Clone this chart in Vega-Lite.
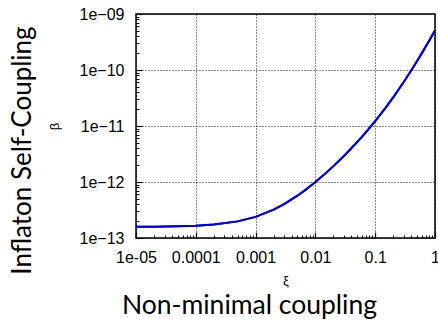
{
  "$schema": "https://vega.github.io/schema/vega-lite/v6.json",
  "width": 299,
  "height": 224,
  "autosize": {"type": "none"},
  "padding": {"left": 136, "top": 14, "right": 3, "bottom": 82},
  "config": {
    "view": {"stroke": "#000", "strokeWidth": 1.5},
    "font": "Liberation Sans",
    "axis": {"labelColor": "#000", "titleColor": "#000", "titleFontWeight": "normal", "tickColor": "#000", "domain": false}
  },
  "data": {"values": [
    {"xi": 0.00001, "beta": 1.588e-13},
    {"xi": 0.00002, "beta": 1.596e-13},
    {"xi": 0.00005, "beta": 1.620e-13},
    {"xi": 0.0001, "beta": 1.660e-13},
    {"xi": 0.0002, "beta": 1.740e-13},
    {"xi": 0.0005, "beta": 1.981e-13},
    {"xi": 0.001, "beta": 2.386e-13},
    {"xi": 0.002, "beta": 3.20e-13},
    {"xi": 0.003, "beta": 4.02e-13},
    {"xi": 0.005, "beta": 5.69e-13},
    {"xi": 0.007, "beta": 7.39e-13},
    {"xi": 0.01, "beta": 1.0e-12},
    {"xi": 0.015, "beta": 1.45e-12},
    {"xi": 0.02, "beta": 1.92e-12},
    {"xi": 0.03, "beta": 2.92e-12},
    {"xi": 0.05, "beta": 5.17e-12},
    {"xi": 0.07, "beta": 7.73e-12},
    {"xi": 0.1, "beta": 1.219e-11},
    {"xi": 0.15, "beta": 2.124e-11},
    {"xi": 0.2, "beta": 3.24e-11},
    {"xi": 0.3, "beta": 6.09e-11},
    {"xi": 0.4, "beta": 9.78e-11},
    {"xi": 0.5, "beta": 1.435e-10},
    {"xi": 0.6, "beta": 1.98e-10},
    {"xi": 0.7, "beta": 2.62e-10},
    {"xi": 0.8, "beta": 3.34e-10},
    {"xi": 0.9, "beta": 4.17e-10},
    {"xi": 1.0, "beta": 5.08e-10}
  ]},
  "layer": [
    {
      "mark": {"type": "line", "color": "#0000ee", "strokeWidth": 2, "clip": true},
      "encoding": {
        "x": {
          "field": "xi", "type": "quantitative",
          "scale": {"type": "log", "domain": [0.00001, 1], "nice": false},
          "axis": {
            "orient": "bottom",
            "values": [0.00001, 0.0001, 0.001, 0.01, 0.1, 1],
            "labelExpr": "datum.value < 0.00005 ? '1e-05' : '' + datum.value",
            "labelFontSize": 16, "labelPadding": 17, "labelFlush": false,
            "tickSize": -6, "tickWidth": 1.2,
            "grid": true, "gridColor": "#000", "gridDash": [1, 2], "gridOpacity": 0.9,
            "title": "ξ", "titleFontSize": 13, "titlePadding": 9
          }
        },
        "y": {
          "field": "beta", "type": "quantitative",
          "scale": {"type": "log", "domain": [1e-13, 1e-9], "nice": false},
          "axis": {
            "orient": "left",
            "values": [1e-13, 1e-12, 1e-11, 1e-10, 1e-9],
            "labelExpr": "'1e' + format(round(log(datum.value) / LN10), '03d')",
            "labelFontSize": 16, "labelPadding": 18, "labelFlush": false,
            "tickSize": -6, "tickWidth": 1.2,
            "grid": true, "gridColor": "#000", "gridDash": [1, 2], "gridOpacity": 0.9,
            "title": "β", "titleFontSize": 13, "titlePadding": 18
          }
        }
      }
    },
    {
      "mark": {"type": "line", "color": "#0000ee", "strokeWidth": 2, "clip": true},
      "encoding": {
        "x": {
          "field": "xi", "type": "quantitative",
          "axis": {
            "orient": "bottom",
            "values": [0.00002, 0.00003, 0.00004, 0.00005, 0.00006, 0.00007, 0.00008, 0.00009, 0.0002, 0.0003, 0.0004, 0.0005, 0.0006, 0.0007, 0.0008, 0.0009, 0.002, 0.003, 0.004, 0.005, 0.006, 0.007, 0.008, 0.009, 0.02, 0.03, 0.04, 0.05, 0.06, 0.07, 0.08, 0.09, 0.2, 0.3, 0.4, 0.5, 0.6, 0.7, 0.8, 0.9],
            "labels": false, "grid": false, "tickSize": -3, "tickWidth": 1,
            "title": "Non-minimal coupling", "titleFont": "Lato", "titleFontSize": 26.5,
            "titleBaseline": "alphabetic", "titleAlign": "center", "titleX": 113, "titleY": 75
          }
        },
        "y": {
          "field": "beta", "type": "quantitative",
          "axis": {
            "orient": "left",
            "values": [2e-13, 3e-13, 4e-13, 5e-13, 6e-13, 7e-13, 8e-13, 9e-13, 2e-12, 3e-12, 4e-12, 5e-12, 6e-12, 7e-12, 8e-12, 9e-12, 2e-11, 3e-11, 4e-11, 5e-11, 6e-11, 7e-11, 8e-11, 9e-11, 2e-10, 3e-10, 4e-10, 5e-10, 6e-10, 7e-10, 8e-10, 9e-10],
            "labels": false, "grid": false, "tickSize": -3, "tickWidth": 1,
            "title": "Inflaton Self-Coupling", "titleFont": "Lato", "titleFontSize": 26,
            "titleBaseline": "alphabetic", "titleAlign": "center", "titleAngle": -90, "titleX": -106, "titleY": 136
          }
        }
      }
    }
  ],
  "resolve": {"axis": {"x": "independent", "y": "independent"}}
}
